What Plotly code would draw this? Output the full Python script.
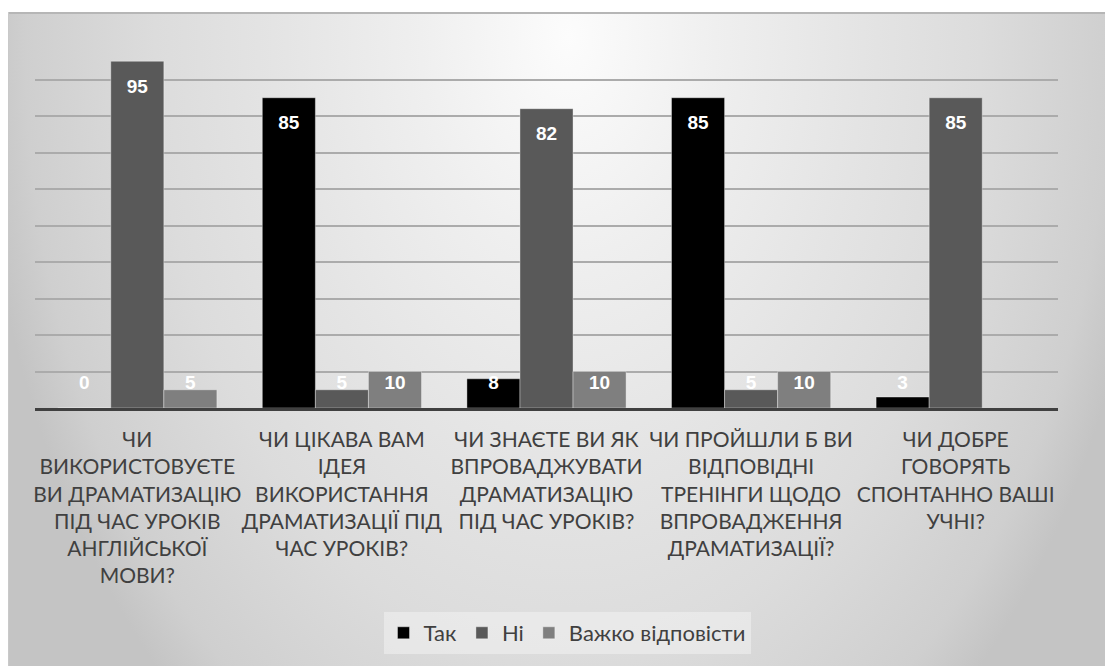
import base64
import plotly.graph_objects as go

# ---------------- data ----------------
categories = [
    "ЧИ<br>ВИКОРИСТОВУЄТЕ<br>ВИ ДРАМАТИЗАЦІЮ<br>ПІД ЧАС УРОКІВ<br>АНГЛІЙСЬКОЇ<br>МОВИ?",
    "ЧИ ЦІКАВА ВАМ<br>ІДЕЯ<br>ВИКОРИСТАННЯ<br>ДРАМАТИЗАЦІЇ ПІД<br>ЧАС УРОКІВ?",
    "ЧИ ЗНАЄТЕ ВИ ЯК<br>ВПРОВАДЖУВАТИ<br>ДРАМАТИЗАЦІЮ<br>ПІД ЧАС УРОКІВ?",
    "ЧИ ПРОЙШЛИ Б ВИ<br>ВІДПОВІДНІ<br>ТРЕНІНГИ ЩОДО<br>ВПРОВАДЖЕННЯ<br>ДРАМАТИЗАЦІЇ?",
    "ЧИ ДОБРЕ<br>ГОВОРЯТЬ<br>СПОНТАННО ВАШІ<br>УЧНІ?",
]
series_names = ["Так", "Ні", "Важко відповісти"]
tak = [0, 85, 8, 85, 3]
ni = [95, 5, 82, 5, 85]
vazhko = [5, 10, 10, 10, None]
series_values = [tak, ni, vazhko]
series_colors = ["#000000", "#595959", "#7f7f7f"]

# ---------------- layout constants ----------------
# page body has an 8px margin, so the figure is sized to fit the window
W, H = 1105, 658
ML, MR, MT, MB = 27, 55, 35, 258
PW, PH = W - ML - MR, H - MT - MB
BARGAP = 0.222
n_series = len(series_values)
bar_w = (1 - BARGAP) / n_series
xpos = list(range(len(categories)))

fig = go.Figure()
for name, vals, col in zip(series_names, series_values, series_colors):
    fig.add_trace(go.Bar(
        x=xpos, y=vals, name=name,
        marker=dict(color=col, line=dict(color="rgba(255,255,255,0.45)", width=0.8)),
        hoverinfo="skip",
    ))

# data labels (white, bold) placed inside the bar end, with a minimum height
for j, vals in enumerate(series_values):
    lx, ly, lt = [], [], []
    for i, v in enumerate(vals):
        if v is None:
            continue
        lx.append(i + (j - (n_series - 1) / 2) * bar_w)
        ly.append(max(v - 7.3, 6.6))
        lt.append(str(v))
    fig.add_trace(go.Scatter(
        x=lx, y=ly, text=lt, mode="text", showlegend=False, hoverinfo="skip",
        textfont=dict(family="Liberation Sans, Arial, sans-serif", size=19, color="white", weight="bold"),
    ))

# background (radial gradient panel) as an svg image
bx0, by0 = 0, 4
bw, bh = W - bx0, H - by0
svg = f'''<svg xmlns="http://www.w3.org/2000/svg" width="{bw}" height="{bh}" viewBox="0 0 {bw} {bh}" preserveAspectRatio="none">
<defs><radialGradient id="g" gradientUnits="userSpaceOnUse" cx="0" cy="0" r="1"
 gradientTransform="translate(560 25) scale(590 880)">
<stop offset="0" stop-color="#fcfcfc"/>
<stop offset="0.25" stop-color="#efefef"/>
<stop offset="0.5" stop-color="#e4e4e4"/>
<stop offset="0.7" stop-color="#dcdcdc"/>
<stop offset="0.92" stop-color="#cfcfcf"/>
<stop offset="1" stop-color="#c4c4c4"/>
</radialGradient></defs>
<rect x="0" y="0" width="{bw}" height="{bh}" fill="url(#g)"/>
<line x1="0" y1="1" x2="{bw}" y2="1" stroke="#b6b6b6" stroke-width="2"/>
<line x1="0.5" y1="0" x2="0.5" y2="{bh}" stroke="#c9c9c9" stroke-width="1"/>
</svg>'''
src = "data:image/svg+xml;base64," + base64.b64encode(svg.encode("utf-8")).decode()

fig.update_layout(
    width=W, height=H,
    margin=dict(l=ML, r=MR, t=MT, b=MB),
    paper_bgcolor="white",
    plot_bgcolor="rgba(0,0,0,0)",
    barmode="group", bargap=BARGAP, bargroupgap=0,
    images=[dict(
        source=src, xref="paper", yref="paper",
        x=(bx0 - ML) / PW, y=(H - MB - by0) / PH,
        sizex=bw / PW, sizey=bh / PH,
        xanchor="left", yanchor="top", sizing="stretch", layer="below",
    )],
    xaxis=dict(
        range=[-0.5, len(categories) - 0.5],
        tickvals=xpos, ticktext=categories, tickangle=0,
        showgrid=False, zeroline=False,
        showline=True, linecolor="#404040", linewidth=2.5,
        ticks="", ticklabelstandoff=11,
        tickfont=dict(family="Lato, sans-serif", size=21, color="#404040"),
    ),
    yaxis=dict(
        range=[0, 100], dtick=10,
        showgrid=True, gridcolor="#ababab", gridwidth=1.8,
        zeroline=False, showticklabels=False, ticks="",
    ),
    legend=dict(
        orientation="h", x=(559 - ML) / PW, xanchor="center",
        y=(H - MB - 625) / PH, yanchor="middle",
        bgcolor="rgba(242,242,242,0.55)",
        font=dict(family="Lato, sans-serif", size=22, color="#404040"),
        itemwidth=30, tracegroupgap=0,
    ),
    showlegend=True,
)

fig.write_html("out.html")
